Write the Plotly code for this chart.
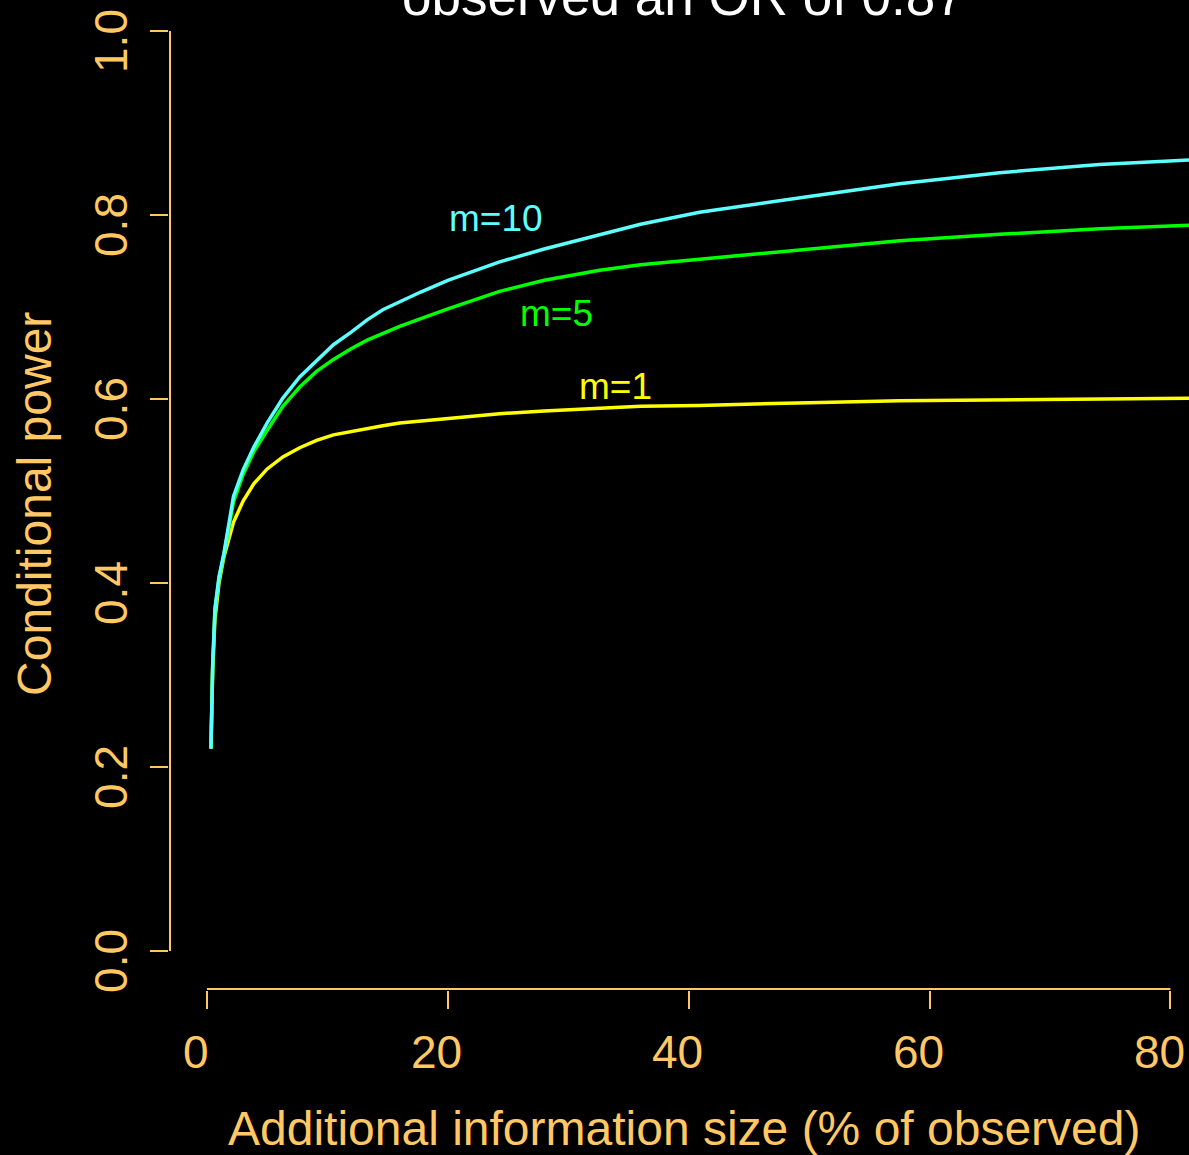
import plotly.graph_objects as go

# Additional information size (% of observed)
x_vals = [0.33, 0.47, 0.66, 1.0, 1.4, 2.2, 3.0, 3.9, 5.0, 6.3, 7.7, 9.1, 10.5, 12.0,
          13.3, 14.6, 16.0, 17.7, 20.0, 24.3, 28.0, 32.6, 36.0, 40.9, 45.0, 50.0,
          57.5, 65.8, 74.1, 82.0]

power_m1 = [0.220, 0.305, 0.360, 0.400, 0.428, 0.466, 0.489, 0.508, 0.524, 0.537,
            0.547, 0.555, 0.561, 0.565, 0.568, 0.571, 0.574, 0.576, 0.579, 0.584,
            0.587, 0.590, 0.592, 0.593, 0.594, 0.596, 0.598, 0.599, 0.600, 0.601]

power_m5 = [0.220, 0.308, 0.370, 0.405, 0.430, 0.488, 0.518, 0.543, 0.566, 0.592,
            0.613, 0.630, 0.643, 0.655, 0.664, 0.671, 0.679, 0.687, 0.698, 0.717,
            0.729, 0.740, 0.746, 0.752, 0.757, 0.763, 0.772, 0.779, 0.785, 0.789]

power_m10 = [0.220, 0.310, 0.372, 0.407, 0.432, 0.494, 0.523, 0.548, 0.574, 0.601,
             0.624, 0.642, 0.659, 0.673, 0.686, 0.697, 0.706, 0.716, 0.729, 0.749,
             0.763, 0.779, 0.790, 0.803, 0.811, 0.820, 0.834, 0.846, 0.855, 0.860]

series_names = ["m=1", "m=5", "m=10"]
series_colors = ["#FFFF00", "#00FF00", "#5CFFFF"]
label_x = [33.9, 29.0, 24.0]
label_y = [0.614, 0.693, 0.796]

x_ticks = [0, 20, 40, 60, 80]
x_tick_text = ["0", "20", "40", "60", "80"]
y_ticks = [0.0, 0.2, 0.4, 0.6, 0.8, 1.0]
y_tick_text = ["0.0", "0.2", "0.4", "0.6", "0.8", "1.0"]

AX = "#FFC864"
FONT = "Liberation Sans, Arial, sans-serif"

fig = go.Figure()
for yv, name, col in zip([power_m1, power_m5, power_m10], series_names, series_colors):
    fig.add_trace(go.Scatter(x=x_vals, y=yv, mode="lines", name=name,
                             line=dict(color=col, width=3.5), showlegend=False,
                             hoverinfo="skip"))

for name, col, lx, ly in zip(series_names, series_colors, label_x, label_y):
    fig.add_annotation(x=lx, y=ly, xref="x", yref="y", text=name, showarrow=False,
                       font=dict(family=FONT, size=37, color=col),
                       xanchor="center", yanchor="middle")

# tick labels (placed like the R device output, slightly offset from the ticks)
for v, t in zip(x_ticks, x_tick_text):
    fig.add_annotation(x=v, y=-0.0626, xref="x", yref="paper", text=t, showarrow=False,
                       xshift=-11, font=dict(family=FONT, size=46, color=AX),
                       xanchor="center", yanchor="middle")
for v, t in zip(y_ticks, y_tick_text):
    fig.add_annotation(x=-0.0569, y=v, xref="paper", yref="y", text=t, showarrow=False,
                       yshift=-10, textangle=-90,
                       font=dict(family=FONT, size=46, color=AX),
                       xanchor="center", yanchor="middle")

# title (partly cut off at top like the reference)
fig.add_annotation(x=0.504, y=0.972, xref="paper", yref="paper",
                   text="observed an OR of 0.87", showarrow=False,
                   font=dict(family=FONT, size=53, color="white"),
                   xanchor="center", yanchor="bottom")
# axis titles
fig.add_annotation(x=0.505, y=-0.1394, xref="paper", yref="paper",
                   text="Additional information size (% of observed)", showarrow=False,
                   font=dict(family=FONT, size=48, color=AX),
                   xanchor="center", yanchor="middle")
fig.add_annotation(x=-0.1314, y=0.491, xref="paper", yref="paper",
                   text="Conditional power", showarrow=False, textangle=-90,
                   font=dict(family=FONT, size=48, color=AX),
                   xanchor="center", yanchor="middle")

# R-style axis lines spanning only the tick range
fig.add_shape(type="line", xref="x", yref="paper", x0=0, x1=80, y0=0.001, y1=0.001,
              line=dict(color=AX, width=2), layer="above")
fig.add_shape(type="line", xref="paper", yref="y", x0=0.001, x1=0.001, y0=0, y1=1,
              line=dict(color=AX, width=2), layer="above")

fig.update_layout(
    width=1189, height=1155,
    margin=dict(l=169, r=0, t=0, b=165, pad=0, autoexpand=False),
    paper_bgcolor="black", plot_bgcolor="black",
    font=dict(family=FONT, color=AX),
    xaxis=dict(range=[-3.154, 81.54], tickvals=x_ticks, ticks="outside", ticklen=18,
               tickwidth=2, tickcolor=AX, showgrid=False, zeroline=False, showline=False,
               showticklabels=False, automargin=False),
    yaxis=dict(range=[-0.0424, 1.0337], tickvals=y_ticks,
               ticks="outside", ticklen=18, tickwidth=2, tickcolor=AX, showgrid=False,
               zeroline=False, showline=False, showticklabels=False, automargin=False),
)

fig.write_html("out.html")
